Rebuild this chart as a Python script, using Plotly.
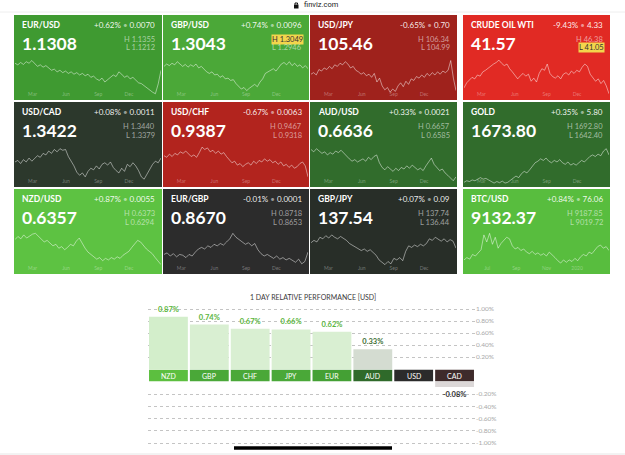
import plotly.graph_objects as go

W, H = 625, 455
def fx(p): return p / W
def fy(p): return 1 - p / H

# ---------------- data ----------------
pairs = ["EUR/USD", "GBP/USD", "USD/JPY", "CRUDE OIL WTI",
         "USD/CAD", "USD/CHF", "AUD/USD", "GOLD",
         "NZD/USD", "EUR/GBP", "GBP/JPY", "BTC/USD"]
prices = ["1.1308", "1.3043", "105.46", "41.57",
          "1.3422", "0.9387", "0.6636", "1673.80",
          "0.6357", "0.8670", "137.54", "9132.37"]
change_pct = ["+0.62%", "+0.74%", "-0.65%", "-9.43%",
              "+0.08%", "-0.67%", "+0.33%", "+0.35%",
              "+0.87%", "-0.01%", "+0.07%", "+0.84%"]
change_abs = ["0.0070", "0.0096", "0.70", "4.33",
              "0.0011", "0.0063", "0.0021", "5.80",
              "0.0055", "0.0001", "0.09", "76.06"]
highs = ["1.1355", "1.3049", "106.34", "46.38",
         "1.3440", "0.9467", "0.6657", "1692.80",
         "0.6373", "0.8718", "137.74", "9187.85"]
lows = ["1.1212", "1.2946", "104.99", "41.05",
        "1.3379", "0.9318", "0.6585", "1642.40",
        "0.6294", "0.8653", "136.44", "9019.72"]
high_flag = [False, True, False, False, False, False, False, False, False, False, False, False]
low_flag = [False, False, False, True, False, False, False, False, False, False, False, False]

months = ["Mar", "Jun", "Sep", "Dec", "Ma"]
months_btc = ["Jul", "Sep", "Nov", "2020", "Ma"]
month_pos = [0.12, 0.35, 0.57, 0.78, 0.985]
month_pos_btc = [0.16, 0.36, 0.57, 0.78, 0.985]

# sparkline heights (0 = bottom of tile chart, 1 = top)
s_eurusd = [0.88,0.84,0.9,0.85,0.92,0.88,0.95,0.86,0.8,0.84,0.78,0.82,0.76,0.7,0.73,0.66,0.7,0.64,0.68,0.62,0.66,0.6,0.64,0.58,0.62,0.56,0.6,0.52,0.55,0.48,0.44,0.5,0.4,0.46,0.52,0.58,0.54,0.66,0.6,0.52,0.56,0.48,0.52,0.44,0.38,0.36,0.3,0.26,0.2,0.14,0.1,0.35,0.7]
s_gbpusd = [0.8,0.86,0.82,0.88,0.84,0.92,0.86,0.8,0.85,0.78,0.84,0.8,0.86,0.76,0.8,0.72,0.66,0.62,0.66,0.58,0.6,0.52,0.56,0.48,0.5,0.44,0.46,0.36,0.28,0.22,0.26,0.18,0.24,0.3,0.34,0.28,0.4,0.48,0.62,0.66,0.7,0.74,0.68,0.76,0.86,0.9,0.84,0.92,0.82,0.88,0.8,0.84,0.76,0.82,0.74]
s_usdjpy = [0.6,0.64,0.58,0.72,0.68,0.76,0.72,0.8,0.74,0.84,0.8,0.88,0.84,0.92,0.86,0.76,0.8,0.7,0.66,0.6,0.64,0.56,0.6,0.52,0.62,0.4,0.5,0.3,0.2,0.26,0.14,0.22,0.16,0.3,0.38,0.28,0.42,0.34,0.48,0.44,0.54,0.5,0.58,0.52,0.62,0.56,0.64,0.58,0.66,0.6,0.68,0.64,0.7,0.95,0.5,0.18]
s_crude = [0.25,0.38,0.45,0.52,0.48,0.58,0.55,0.66,0.7,0.76,0.8,0.86,0.9,0.96,0.88,0.82,0.86,0.74,0.66,0.56,0.48,0.56,0.62,0.55,0.6,0.42,0.5,0.4,0.62,0.74,0.7,0.86,0.62,0.54,0.5,0.56,0.48,0.6,0.64,0.58,0.68,0.62,0.7,0.66,0.78,0.86,0.8,0.6,0.5,0.42,0.48,0.36,0.44,0.3,0.1]
s_usdcad = [0.58,0.62,0.54,0.64,0.58,0.68,0.6,0.66,0.74,0.7,0.8,0.76,0.86,0.8,0.9,0.84,0.92,0.88,0.9,0.72,0.6,0.48,0.32,0.24,0.3,0.2,0.34,0.42,0.38,0.48,0.4,0.52,0.56,0.5,0.58,0.44,0.36,0.3,0.42,0.34,0.52,0.46,0.56,0.48,0.36,0.2,0.14,0.26,0.4,0.52,0.6,0.56,0.68]
s_usdchf = [0.74,0.7,0.78,0.72,0.8,0.76,0.84,0.8,0.86,0.78,0.72,0.76,0.7,0.82,0.96,0.9,0.94,0.84,0.88,0.8,0.86,0.78,0.82,0.72,0.64,0.56,0.6,0.5,0.54,0.46,0.52,0.56,0.5,0.6,0.54,0.62,0.58,0.66,0.6,0.64,0.56,0.6,0.52,0.58,0.48,0.52,0.44,0.5,0.42,0.46,0.54,0.58,0.48,0.2]
s_audusd = [0.9,0.84,0.92,0.86,0.8,0.84,0.76,0.82,0.78,0.86,0.82,0.88,0.8,0.72,0.66,0.6,0.64,0.58,0.62,0.66,0.6,0.7,0.64,0.72,0.76,0.56,0.44,0.38,0.46,0.4,0.34,0.42,0.36,0.44,0.4,0.48,0.42,0.5,0.44,0.38,0.42,0.36,0.48,0.58,0.68,0.52,0.44,0.36,0.4,0.3,0.24,0.16,0.1,0.2]
s_gold = [0.06,0.1,0.08,0.12,0.1,0.14,0.18,0.14,0.16,0.12,0.08,0.04,0.08,0.05,0.09,0.04,0.06,0.12,0.16,0.22,0.18,0.28,0.34,0.3,0.38,0.46,0.56,0.6,0.66,0.62,0.68,0.6,0.56,0.62,0.58,0.64,0.56,0.52,0.58,0.5,0.54,0.5,0.56,0.62,0.58,0.66,0.72,0.76,0.72,0.78,0.74,0.86,0.92,0.76]
s_nzdusd = [0.82,0.9,0.84,0.94,0.86,0.92,0.96,0.98,0.9,0.82,0.76,0.8,0.72,0.66,0.7,0.6,0.64,0.56,0.62,0.7,0.66,0.78,0.86,0.72,0.6,0.5,0.44,0.38,0.32,0.36,0.28,0.34,0.3,0.36,0.32,0.38,0.34,0.42,0.48,0.52,0.62,0.72,0.8,0.76,0.66,0.58,0.52,0.46,0.36,0.28,0.18]
s_eurgbp = [0.44,0.48,0.4,0.46,0.38,0.44,0.42,0.36,0.44,0.4,0.5,0.58,0.62,0.58,0.66,0.62,0.7,0.66,0.72,0.68,0.76,0.84,0.98,0.88,0.82,0.76,0.7,0.74,0.66,0.72,0.56,0.46,0.4,0.44,0.38,0.34,0.4,0.32,0.36,0.3,0.34,0.28,0.24,0.32,0.2,0.26,0.5]
s_gbpjpy = [0.74,0.8,0.76,0.88,0.84,0.92,0.86,0.94,0.88,0.84,0.9,0.86,0.8,0.72,0.68,0.62,0.58,0.54,0.58,0.52,0.56,0.48,0.42,0.3,0.24,0.18,0.26,0.2,0.34,0.3,0.36,0.28,0.52,0.66,0.62,0.68,0.64,0.7,0.66,0.72,0.84,0.8,0.88,0.82,0.78,0.84,0.76,0.82,0.78,0.6]
s_btcusd = [0.3,0.36,0.32,0.44,0.4,0.48,0.56,0.94,0.76,0.98,0.7,0.88,0.6,0.72,0.8,0.88,0.84,0.66,0.58,0.62,0.54,0.58,0.5,0.46,0.52,0.44,0.48,0.42,0.46,0.4,0.5,0.44,0.36,0.28,0.22,0.3,0.24,0.3,0.26,0.34,0.28,0.38,0.44,0.4,0.5,0.46,0.56,0.64,0.68,0.6,0.64,0.54]
sparks = [s_eurusd, s_gbpusd, s_usdjpy, s_crude, s_usdcad, s_usdchf,
          s_audusd, s_gold, s_nzdusd, s_eurgbp, s_gbpjpy, s_btcusd]

perf_cats = ["NZD", "GBP", "CHF", "JPY", "EUR", "AUD", "USD", "CAD"]
perf_vals = [0.87, 0.74, 0.67, 0.66, 0.62, 0.33, 0.0, -0.08]
pos_ticks = [0.2, 0.4, 0.6, 0.8, 1.0]
neg_ticks = [-0.2, -0.4, -0.6, -0.8, -1.0]

# ---------------- styles / layout geometry ----------------
tile_colors = ["#3f9a31", "#4ba838", "#9f221c", "#e12a24",
               "#2c382c", "#b2241e", "#316c2c", "#316c2c",
               "#5dc242", "#2c2c2c", "#282e28", "#58bd3e"]
col_x = [(14, 162), (163, 309), (310, 457), (463, 610)]
row_y = [(15, 100), (102, 187), (189, 274)]
FONT = "Lato"

fig = go.Figure()
shapes, annotations = [], []
layout = dict(width=W, height=H, margin=dict(l=0, r=0, t=0, b=0),
              paper_bgcolor="white", plot_bgcolor="rgba(0,0,0,0)",
              showlegend=False, font=dict(family=FONT))

for i in range(12):
    r, c = divmod(i, 4)
    x0, x1 = col_x[c]
    y0, y1 = row_y[r]
    k = i + 1
    sfx = "" if k == 1 else str(k)
    shapes.append(dict(type="rect", xref="paper", yref="paper",
                       x0=fx(x0), x1=fx(x1), y0=fy(y1), y1=fy(y0),
                       fillcolor=tile_colors[i], line_width=0, layer="below"))
    vals = sparks[i]
    n = len(vals)
    fig.add_trace(go.Scatter(x=list(range(n)), y=vals, mode="lines",
                             line=dict(color="rgba(255,255,255,0.6)", width=0.8),
                             xaxis="x" + sfx, yaxis="y" + sfx,
                             hoverinfo="skip", showlegend=False))
    mp = month_pos_btc if pairs[i] == "BTC/USD" else month_pos
    mt = months_btc if pairs[i] == "BTC/USD" else months
    layout["xaxis" + sfx] = dict(domain=[fx(x0 + 1), fx(x1 - 1)], range=[0, n - 1],
                                 anchor="y" + sfx, showgrid=False, zeroline=False,
                                 showline=False, ticks="",
                                 tickvals=[p * (n - 1) for p in mp], ticktext=mt,
                                 ticklabelposition="inside",
                                 tickfont=dict(size=5, color="rgba(255,255,255,0.35)"))
    layout["yaxis" + sfx] = dict(domain=[fy(y1), fy(y0 + 42)], range=[-0.06, 1.04],
                                 anchor="x" + sfx, visible=False)
    # texts
    annotations.append(dict(x=fx(x0 + 6), y=fy(y0 + 10), xref="paper", yref="paper",
                            text=f"<b>{pairs[i]}</b>", showarrow=False, xanchor="left",
                            yanchor="middle", font=dict(size=8.5, color="white", family=FONT)))
    annotations.append(dict(x=fx(x1 - 5), y=fy(y0 + 10), xref="paper", yref="paper",
                            text=f"{change_pct[i]} <span style='color:rgba(255,255,255,0.55)'>•</span> {change_abs[i]}",
                            showarrow=False, xanchor="right", yanchor="middle",
                            font=dict(size=8, color="rgba(255,255,255,0.92)", family=FONT)))
    annotations.append(dict(x=fx(x0 + 6), y=fy(y0 + 28.5), xref="paper", yref="paper",
                            text=f"<b>{prices[i]}</b>", showarrow=False, xanchor="left",
                            yanchor="middle", font=dict(size=17.5, color="white", family=FONT)))
    for j, (lab, val, flag) in enumerate([("H", highs[i], high_flag[i]), ("L", lows[i], low_flag[i])]):
        ann = dict(x=fx(x1 - 5), y=fy(y0 + 24 + 9 * j), xref="paper", yref="paper",
                   text=f"{lab} {val}", showarrow=False, xanchor="right", yanchor="middle",
                   font=dict(size=7.5, color="rgba(255,255,255,0.55)", family=FONT))
        if flag:
            ann["bgcolor"] = "#f3d54c"
            ann["font"] = dict(size=7.5, color="#333333", family=FONT)
            ann["borderpad"] = 0
        annotations.append(ann)

# ---------------- bottom relative performance chart ----------------
bar_fill = ["#d3eecb", "#d9efd2", "#d9efd2", "#d9efd2", "#d9efd2", "#d4dcd1", "#e0e0e0", "#dcd8d8"]
band_colors = ["#5cbf3f", "#4aa838", "#4aa838", "#4aa838", "#44a034", "#2f6a2a", "#2b2b2b", "#3e2b2b"]
val_text_colors = ["#5ab53c", "#5ab53c", "#5ab53c", "#5ab53c", "#5ab53c", "#3d6e33", "#333333", "#333333"]

pos_y = [v if v > 0 else 0 for v in perf_vals]
neg_y = [v if v < 0 else 0 for v in perf_vals]
pos_txt = [f"<b>{v:.2f}%</b>" if v > 0 else "" for v in perf_vals]
neg_txt = [f"<b>{v:.2f}%</b>" if v < 0 else "" for v in perf_vals]

BX0, BX1 = 148, 475
fig.add_trace(go.Bar(x=perf_cats, y=pos_y, xaxis="x13", yaxis="y13", width=0.95,
                     marker=dict(color=bar_fill, line=dict(width=0)),
                     text=pos_txt, textposition="outside", cliponaxis=False,
                     textfont=dict(size=7.5, color=val_text_colors, family=FONT),
                     hoverinfo="skip"))
fig.add_trace(go.Bar(x=perf_cats, y=neg_y, xaxis="x14", yaxis="y14", width=0.95,
                     marker=dict(color=bar_fill, line=dict(width=0)),
                     text=neg_txt, textposition="outside", cliponaxis=False,
                     textfont=dict(size=7.5, color=val_text_colors, family=FONT),
                     hoverinfo="skip"))
fig.add_trace(go.Bar(x=perf_cats, y=[1] * len(perf_cats), xaxis="x15", yaxis="y15", width=0.95,
                     marker=dict(color=band_colors, line=dict(width=0)), hoverinfo="skip"))
for cat in perf_cats:
    annotations.append(dict(x=cat, y=0.5, xref="x15", yref="y15", text=cat, showarrow=False,
                            font=dict(size=7, color="white", family=FONT)))

for ax in ("13", "14", "15"):
    layout["xaxis" + ax] = dict(domain=[fx(BX0), fx(BX1)], anchor="y" + ax, visible=False,
                                categoryorder="array", categoryarray=perf_cats,
                                range=[-0.5, len(perf_cats) - 0.5])
grid_common = dict(showgrid=True, gridcolor="#c4c4c4", griddash="dot", gridwidth=1,
                   zeroline=False, showline=False, ticks="", side="right",
                   tickfont=dict(size=6.5, color="#a8a8a8", family=FONT))
layout["yaxis13"] = dict(domain=[fy(369), fy(305)], range=[0, 64 / 60], anchor="x13",
                         tickvals=pos_ticks, ticktext=[f"{t:.2f}%" for t in pos_ticks], **grid_common)
layout["yaxis14"] = dict(domain=[fy(446), fy(382)], range=[-64 / 61, 0], anchor="x14",
                         tickvals=neg_ticks, ticktext=[f"{t:.2f}%" for t in neg_ticks], **grid_common)
layout["yaxis15"] = dict(domain=[fy(381.5), fy(369.5)], range=[0, 1], anchor="x15", visible=False)

annotations.append(dict(x=fx(313), y=fy(297), xref="paper", yref="paper",
                        text="1 DAY RELATIVE PERFORMANCE [USD]", showarrow=False,
                        font=dict(size=7, color="#3a3a3a", family=FONT)))

# browser chrome
annotations.append(dict(x=fx(302), y=fy(5), xref="paper", yref="paper", text="finviz.com",
                        showarrow=False, xanchor="left", yanchor="middle",
                        font=dict(size=7.5, color="#222222", family="Roboto")))
shapes.append(dict(type="rect", xref="paper", yref="paper", x0=fx(294), x1=fx(298.5),
                   y0=fy(8.5), y1=fy(4.5), fillcolor="#111111", line_width=0))
shapes.append(dict(type="path", xref="paper", yref="paper",
                   path=f"M {fx(295)} {fy(4.5)} L {fx(295)} {fy(3)} L {fx(297.5)} {fy(3)} L {fx(297.5)} {fy(4.5)}",
                   line=dict(color="#111111", width=1)))
shapes.append(dict(type="line", xref="paper", yref="paper", x0=0, x1=1, y0=fy(12), y1=fy(12),
                   line=dict(color="#eeeeee", width=1)))
shapes.append(dict(type="line", xref="paper", yref="paper", x0=fx(234), x1=fx(392), y0=fy(448), y1=fy(448),
                   line=dict(color="#000000", width=3.5)))
shapes.append(dict(type="line", xref="paper", yref="paper", x0=0, x1=1, y0=fy(454), y1=fy(454),
                   line=dict(color="#e6e6e6", width=1)))

layout["shapes"] = shapes
layout["annotations"] = annotations
layout["barmode"] = "overlay"
fig.update_layout(**layout)
fig.write_html("out.html")
